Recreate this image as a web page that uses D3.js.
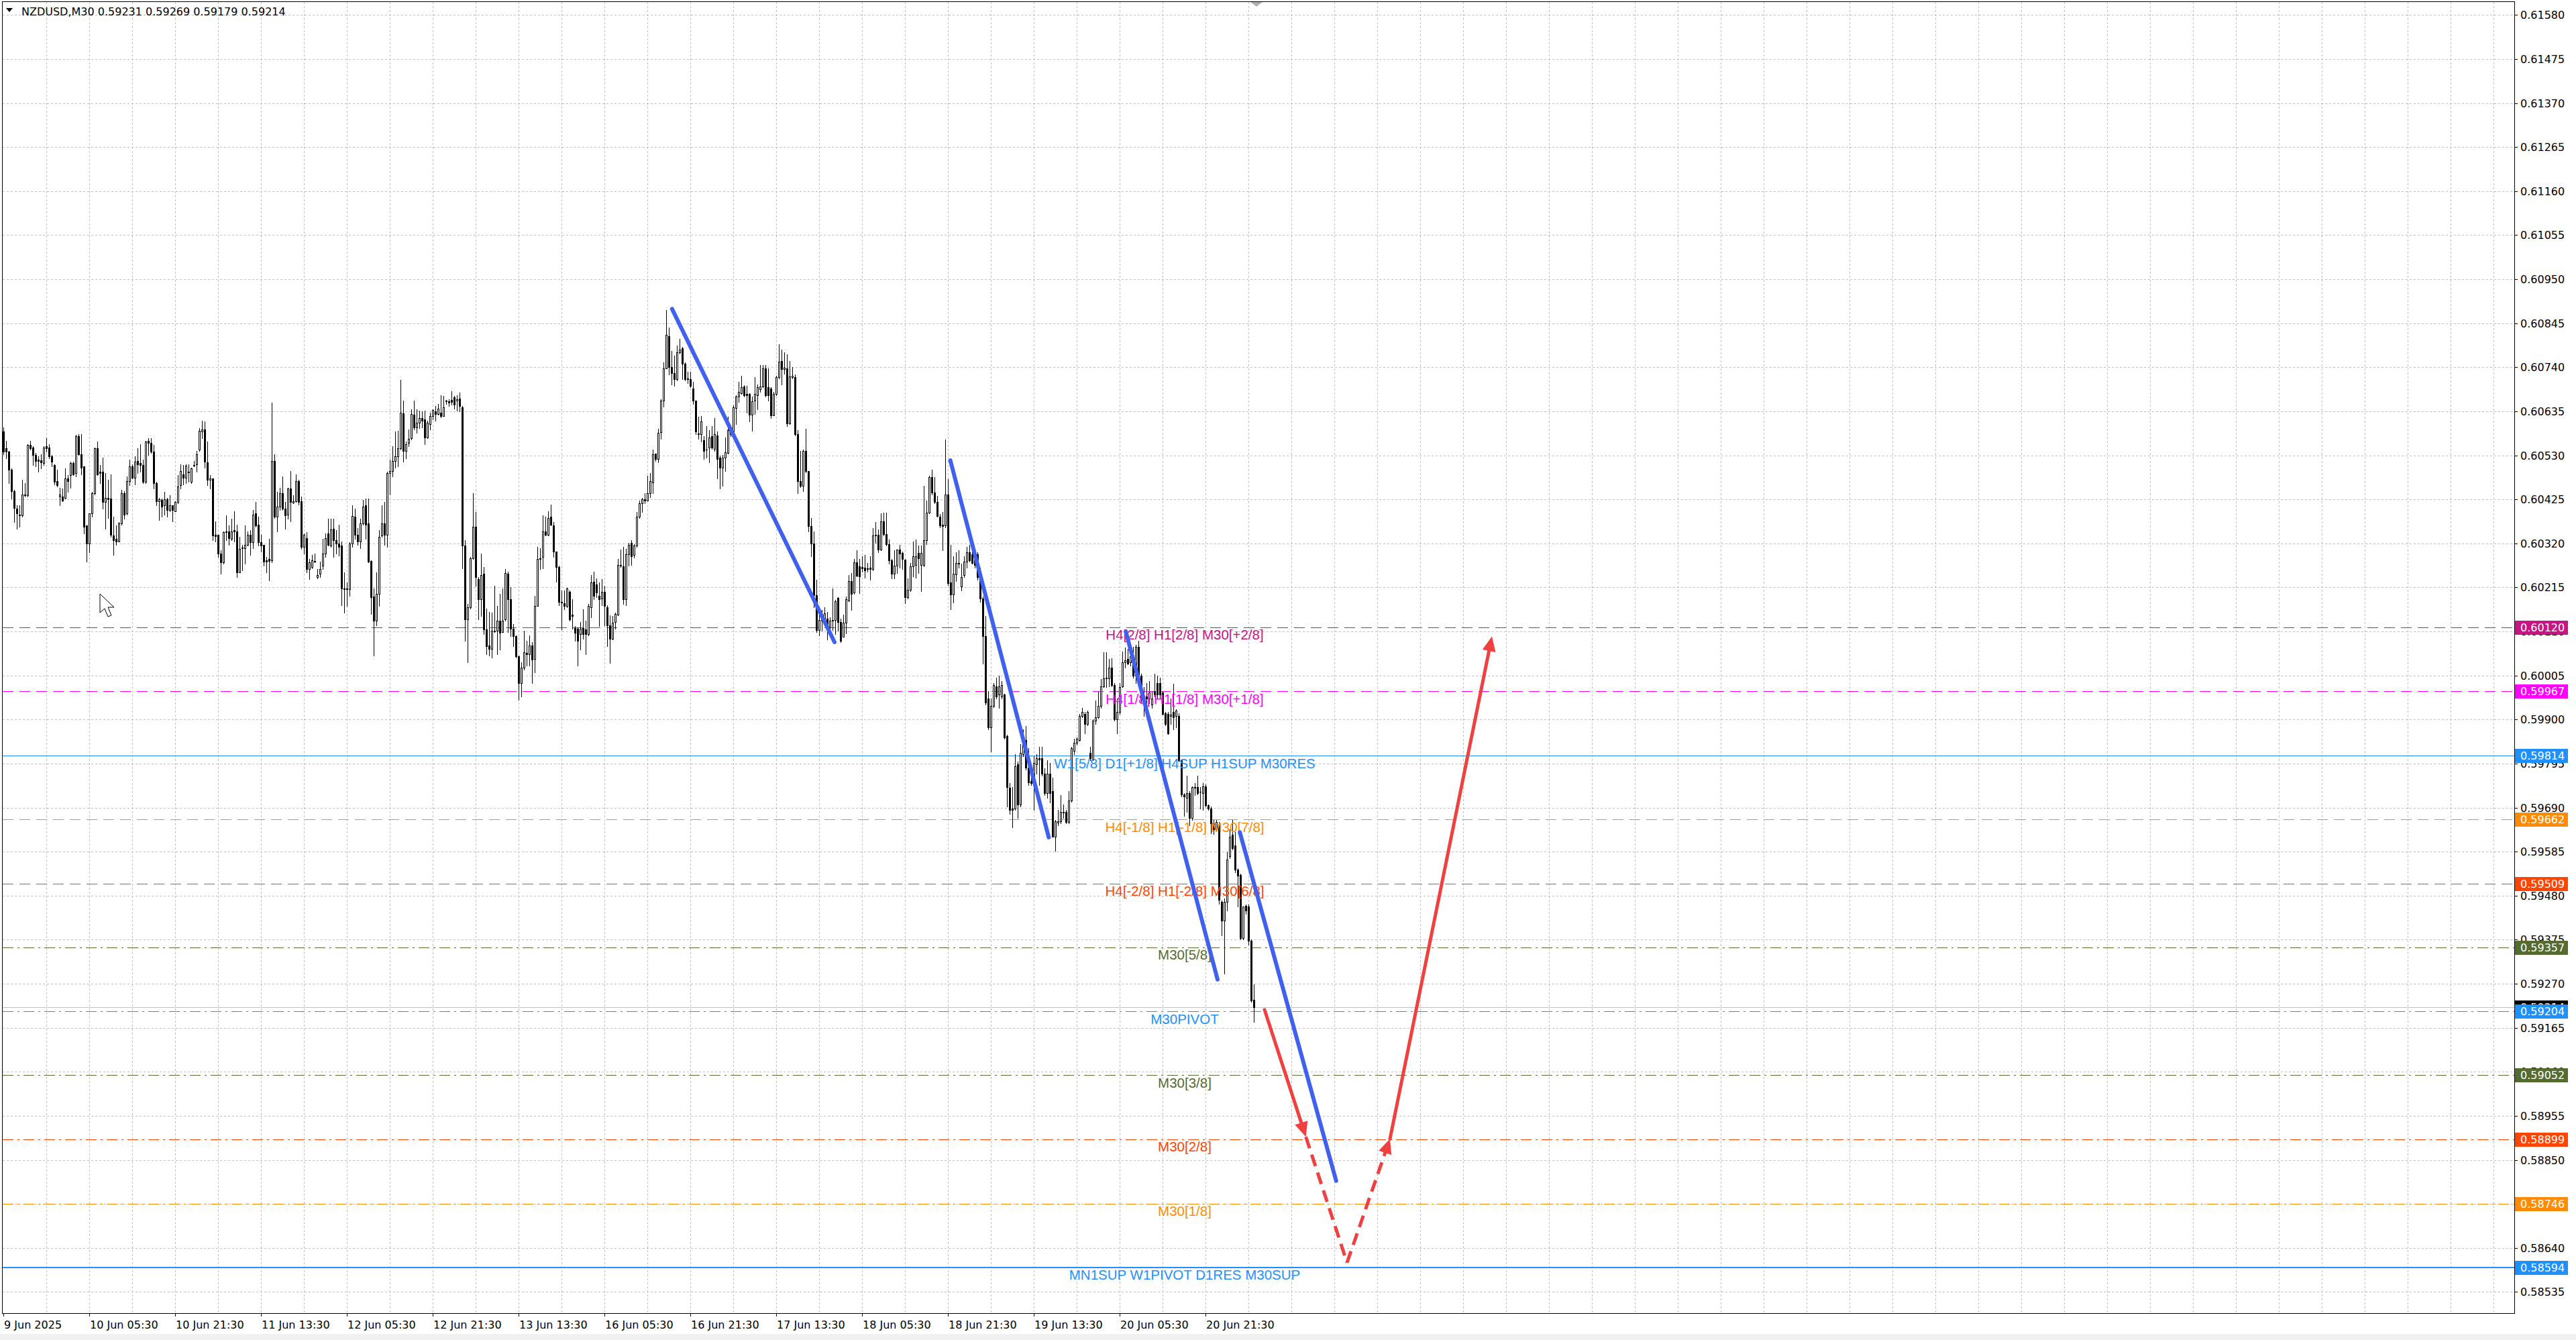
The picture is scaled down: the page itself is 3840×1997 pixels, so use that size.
<!DOCTYPE html>
<html><head><meta charset="utf-8">
<script src="https://cdn.jsdelivr.net/npm/d3@7"></script>
<style>html,body{margin:0;padding:0;background:#fff;overflow:hidden}svg{display:block}</style>
</head><body>
<script>
// ---------------- DATA ----------------
const openPrices = [0.60587,0.60547,0.60539,0.60496,0.60445,0.60403,0.60389,0.60387,0.60435,0.60435,0.60555,0.60549,0.60531,0.60520,0.60518,0.60512,0.60552,0.60549,0.60528,0.60507,0.60468,0.60432,0.60432,0.60429,0.60475,0.60483,0.60512,0.60488,0.60576,0.60533,0.60504,0.60363,0.60320,0.60392,0.60440,0.60547,0.60491,0.60491,0.60419,0.60429,0.60427,0.60339,0.60331,0.60325,0.60368,0.60440,0.60392,0.60469,0.60504,0.60477,0.60517,0.60512,0.60507,0.60467,0.60564,0.60560,0.60539,0.60464,0.60421,0.60424,0.60411,0.60426,0.60400,0.60411,0.60397,0.60419,0.60459,0.60485,0.60476,0.60491,0.60467,0.60507,0.60509,0.60543,0.60587,0.60592,0.60514,0.60472,0.60475,0.60340,0.60341,0.60296,0.60275,0.60349,0.60349,0.60331,0.60352,0.60349,0.60251,0.60310,0.60309,0.60317,0.60341,0.60323,0.60392,0.60365,0.60323,0.60317,0.60280,0.60283,0.60280,0.60517,0.60384,0.60408,0.60440,0.60403,0.60389,0.60451,0.60417,0.60421,0.60469,0.60421,0.60312,0.60333,0.60259,0.60264,0.60278,0.60240,0.60248,
0.60267,0.60296,0.60344,0.60315,0.60355,0.60328,0.60319,0.60315,0.60212,0.60211,0.60211,0.60320,0.60384,0.60341,0.60325,0.60368,0.60411,0.60368,0.60278,0.60193,0.60136,0.60200,0.60339,0.60368,0.60341,0.60488,0.60493,0.60517,0.60528,0.60547,0.60630,0.60541,0.60559,0.60571,0.60627,0.60597,0.60608,0.60619,0.60615,0.60572,0.60605,0.60624,0.60635,0.60628,0.60632,0.60624,0.60661,0.60659,0.60662,0.60668,0.60660,0.60665,0.60645,0.60315,0.60139,0.60168,0.60285,0.60360,0.60235,0.60187,0.60248,0.60115,0.60077,0.60069,0.60112,0.60112,0.60136,0.60109,0.60139,0.60248,0.60187,0.60117,0.60099,0.60051,0.59987,0.60024,0.60059,0.60056,0.60077,0.60045,0.60171,0.60285,0.60288,0.60349,0.60341,0.60384,0.60363,0.60301,0.60264,0.60181,0.60177,0.60171,0.60204,0.60150,0.60118,0.60117,0.60104,0.60118,0.60115,0.60104,0.60168,0.60228,0.60222,0.60195,0.60189,0.60205,0.60168,0.60124,0.60093,0.60133,0.60150,0.60269,0.60266,0.60187,0.60294,
0.60322,0.60292,0.60315,0.60383,0.60416,0.60425,0.60422,0.60439,0.60466,0.60534,0.60522,0.60585,0.60661,0.60738,0.60814,0.60741,0.60726,0.60711,0.60775,0.60785,0.60749,0.60714,0.60712,0.60690,0.60661,0.60582,0.60581,0.60566,0.60544,0.60549,0.60575,0.60546,0.60578,0.60525,0.60501,0.60525,0.60535,0.60581,0.60587,0.60643,0.60670,0.60678,0.60694,0.60676,0.60676,0.60627,0.60661,0.60673,0.60687,0.60694,0.60738,0.60692,0.60690,0.60625,0.60676,0.60717,0.60755,0.60736,0.60738,0.60606,0.60717,0.60716,0.60581,0.60468,0.60457,0.60540,0.60492,0.60361,0.60320,0.60197,0.60114,0.60135,0.60138,0.60141,0.60120,0.60135,0.60138,0.60190,0.60133,0.60098,0.60131,0.60184,0.60230,0.60203,0.60275,0.60265,0.60263,0.60262,0.60261,0.60262,0.60259,0.60341,0.60341,0.60306,0.60373,0.60342,0.60318,0.60280,0.60247,0.60267,0.60305,0.60298,0.60281,0.60191,0.60209,0.60265,0.60268,0.60298,0.60268,0.60268,0.60328,0.60393,0.60478,0.60442,0.60419,
0.60383,0.60365,0.60363,0.60436,0.60227,0.60198,0.60246,0.60273,0.60218,0.60244,0.60276,0.60299,0.60294,0.60301,0.60294,0.60239,0.60189,0.60099,0.59950,0.59881,0.59933,0.59979,0.59959,0.59955,0.59959,0.59860,0.59737,0.59688,0.59688,0.59794,0.59698,0.59817,0.59851,0.59785,0.59753,0.59748,0.59794,0.59808,0.59808,0.59771,0.59725,0.59771,0.59730,0.59620,0.59654,0.59658,0.59679,0.59679,0.59656,0.59707,0.59826,0.59844,0.59851,0.59909,0.59913,0.59890,0.59820,0.59805,0.59897,0.59906,0.59933,0.59979,0.59998,0.59998,0.60023,0.59982,0.59900,0.59918,0.59979,0.60037,0.60044,0.60037,0.60051,0.60005,0.60074,0.60005,0.59955,0.59955,0.59950,0.59936,0.59968,0.59987,0.59987,0.59964,0.59915,0.59913,0.59909,0.59918,0.59909,0.59909,0.59803,0.59722,0.59713,0.59725,0.59665,0.59739,0.59739,0.59728,0.59725,0.59741,0.59695,0.59688,0.59652,0.59638,0.59650,0.59465,0.59420,0.59465,0.59574,0.59625,0.59600,0.59542,0.59530,0.59379,0.59456,0.59454,0.59372,0.59231];
const highPrices = [0.60597,0.60565,0.60541,0.60499,0.60448,0.60411,0.60411,0.60472,0.60464,0.60557,0.60565,0.60552,0.60536,0.60528,0.60533,0.60552,0.60571,0.60557,0.60531,0.60509,0.60496,0.60453,0.60451,0.60499,0.60483,0.60515,0.60515,0.60579,0.60581,0.60581,0.60504,0.60363,0.60392,0.60443,0.60549,0.60563,0.60507,0.60525,0.60488,0.60472,0.60485,0.60384,0.60363,0.60371,0.60448,0.60445,0.60480,0.60520,0.60509,0.60528,0.60547,0.60557,0.60520,0.60565,0.60571,0.60571,0.60555,0.60467,0.60429,0.60427,0.60443,0.60429,0.60435,0.60411,0.60421,0.60483,0.60509,0.60507,0.60509,0.60509,0.60501,0.60517,0.60541,0.60595,0.60613,0.60611,0.60563,0.60483,0.60475,0.60373,0.60341,0.60304,0.60349,0.60387,0.60363,0.60379,0.60397,0.60365,0.60336,0.60317,0.60363,0.60349,0.60352,0.60400,0.60419,0.60384,0.60341,0.60317,0.60288,0.60331,0.60656,0.60533,0.60443,0.60453,0.60480,0.60419,0.60453,0.60493,0.60435,0.60485,0.60472,0.60432,0.60344,0.60347,0.60283,0.60293,0.60296,0.60259,0.60277,
0.60331,0.60344,0.60379,0.60379,0.60379,0.60352,0.60365,0.60325,0.60251,0.60227,0.60323,0.60411,0.60403,0.60357,0.60379,0.60424,0.60427,0.60427,0.60280,0.60213,0.60251,0.60352,0.60411,0.60419,0.60491,0.60520,0.60552,0.60587,0.60589,0.60710,0.60661,0.60563,0.60592,0.60640,0.60661,0.60640,0.60637,0.60635,0.60637,0.60613,0.60632,0.60639,0.60648,0.60652,0.60673,0.60672,0.60662,0.60664,0.60683,0.60672,0.60673,0.60680,0.60648,0.60328,0.60176,0.60288,0.60440,0.60395,0.60240,0.60296,0.60264,0.60165,0.60157,0.60155,0.60219,0.60171,0.60200,0.60213,0.60259,0.60253,0.60216,0.60128,0.60101,0.60053,0.60037,0.60112,0.60088,0.60101,0.60085,0.60195,0.60312,0.60309,0.60387,0.60384,0.60397,0.60413,0.60371,0.60301,0.60267,0.60208,0.60208,0.60214,0.60208,0.60187,0.60123,0.60120,0.60133,0.60163,0.60136,0.60176,0.60245,0.60253,0.60237,0.60227,0.60235,0.60219,0.60173,0.60149,0.60147,0.60155,0.60283,0.60305,0.60312,0.60307,0.60321,
0.60327,0.60318,0.60395,0.60422,0.60428,0.60439,0.60481,0.60487,0.60543,0.60534,0.60593,0.60664,0.60752,0.60876,0.60835,0.60779,0.60767,0.60792,0.60808,0.60788,0.60752,0.60729,0.60729,0.60705,0.60661,0.60622,0.60624,0.60575,0.60599,0.60590,0.60599,0.60619,0.60587,0.60529,0.60531,0.60572,0.60622,0.60599,0.60649,0.60673,0.60705,0.60720,0.60698,0.60696,0.60678,0.60670,0.60716,0.60699,0.60746,0.60746,0.60746,0.60738,0.60693,0.60681,0.60720,0.60795,0.60782,0.60775,0.60771,0.60755,0.60741,0.60723,0.60590,0.60541,0.60543,0.60594,0.60492,0.60381,0.60348,0.60233,0.60162,0.60162,0.60168,0.60156,0.60144,0.60212,0.60185,0.60191,0.60141,0.60150,0.60194,0.60244,0.60250,0.60283,0.60303,0.60283,0.60289,0.60292,0.60273,0.60289,0.60357,0.60371,0.60354,0.60392,0.60393,0.60393,0.60330,0.60283,0.60303,0.60306,0.60316,0.60301,0.60282,0.60236,0.60274,0.60324,0.60330,0.60315,0.60315,0.60457,0.60422,0.60481,0.60495,0.60478,0.60433,
0.60390,0.60395,0.60567,0.60473,0.60317,0.60290,0.60299,0.60303,0.60271,0.60290,0.60312,0.60317,0.60299,0.60303,0.60299,0.60262,0.60193,0.60147,0.59968,0.59950,0.59987,0.60000,0.60005,0.59991,0.59961,0.59863,0.59748,0.59739,0.59817,0.59799,0.59842,0.59877,0.59884,0.59831,0.59785,0.59812,0.59817,0.59835,0.59835,0.59783,0.59803,0.59796,0.59762,0.59661,0.59684,0.59720,0.59698,0.59684,0.59730,0.59835,0.59854,0.59858,0.59913,0.59927,0.59918,0.59922,0.59835,0.59900,0.59945,0.59968,0.59996,0.60060,0.60060,0.60044,0.60046,0.59987,0.59950,0.59987,0.60062,0.60071,0.60069,0.60074,0.60074,0.60078,0.60088,0.60010,0.59978,0.59987,0.59991,0.59968,0.60010,0.60005,0.60000,0.59968,0.59918,0.59918,0.59950,0.59985,0.59925,0.59915,0.59805,0.59725,0.59766,0.59730,0.59741,0.59748,0.59766,0.59739,0.59748,0.59746,0.59698,0.59693,0.59661,0.59661,0.59655,0.59468,0.59473,0.59583,0.59638,0.59661,0.59632,0.59546,0.59532,0.59454,0.59459,0.59459,0.59376,0.59269];
const lowPrices = [0.60533,0.60523,0.60464,0.60427,0.60371,0.60355,0.60360,0.60384,0.60432,0.60432,0.60544,0.60507,0.60504,0.60491,0.60499,0.60507,0.60539,0.60523,0.60504,0.60461,0.60456,0.60411,0.60421,0.60427,0.60443,0.60453,0.60483,0.60480,0.60531,0.60485,0.60344,0.60277,0.60299,0.60384,0.60437,0.60483,0.60464,0.60403,0.60355,0.60381,0.60336,0.60293,0.60317,0.60325,0.60365,0.60379,0.60389,0.60459,0.60475,0.60461,0.60488,0.60491,0.60464,0.60464,0.60531,0.60536,0.60451,0.60411,0.60376,0.60384,0.60389,0.60384,0.60397,0.60373,0.60397,0.60416,0.60451,0.60461,0.60464,0.60467,0.60464,0.60504,0.60491,0.60541,0.60571,0.60501,0.60459,0.60451,0.60328,0.60325,0.60288,0.60248,0.60272,0.60328,0.60317,0.60328,0.60325,0.60240,0.60251,0.60256,0.60272,0.60315,0.60293,0.60309,0.60360,0.60315,0.60301,0.60267,0.60251,0.60232,0.60275,0.60381,0.60349,0.60400,0.60400,0.60355,0.60379,0.60373,0.60416,0.60419,0.60413,0.60307,0.60296,0.60251,0.60235,0.60261,0.60275,0.60237,0.60240,
0.60259,0.60288,0.60315,0.60312,0.60288,0.60296,0.60291,0.60173,0.60155,0.60171,0.60195,0.60312,0.60331,0.60317,0.60309,0.60365,0.60331,0.60275,0.60152,0.60053,0.60125,0.60171,0.60336,0.60317,0.60312,0.60437,0.60480,0.60501,0.60504,0.60544,0.60515,0.60523,0.60552,0.60568,0.60592,0.60584,0.60595,0.60597,0.60557,0.60571,0.60592,0.60616,0.60613,0.60627,0.60621,0.60623,0.60653,0.60648,0.60651,0.60641,0.60637,0.60635,0.60261,0.60088,0.60037,0.60165,0.60283,0.60219,0.60139,0.60147,0.60104,0.60056,0.60053,0.60048,0.60109,0.60056,0.60067,0.60109,0.60136,0.60109,0.60099,0.60075,0.60048,0.59947,0.59955,0.60019,0.60029,0.60029,0.59987,0.60013,0.60171,0.60259,0.60261,0.60339,0.60339,0.60363,0.60288,0.60229,0.60173,0.60115,0.60163,0.60168,0.60136,0.60117,0.60088,0.60029,0.60067,0.60093,0.60056,0.60101,0.60144,0.60187,0.60192,0.60123,0.60173,0.60125,0.60075,0.60035,0.60091,0.60117,0.60149,0.60264,0.60176,0.60173,0.60267,
0.60268,0.60286,0.60312,0.60380,0.60395,0.60416,0.60422,0.60430,0.60439,0.60516,0.60513,0.60569,0.60646,0.60738,0.60723,0.60699,0.60696,0.60708,0.60773,0.60711,0.60708,0.60702,0.60693,0.60652,0.60581,0.60569,0.60563,0.60522,0.60525,0.60513,0.60546,0.60540,0.60475,0.60451,0.60457,0.60492,0.60534,0.60575,0.60575,0.60605,0.60658,0.60676,0.60670,0.60631,0.60611,0.60588,0.60628,0.60640,0.60681,0.60693,0.60670,0.60661,0.60619,0.60625,0.60674,0.60714,0.60699,0.60724,0.60599,0.60605,0.60714,0.60578,0.60439,0.60454,0.60445,0.60489,0.60348,0.60289,0.60168,0.60109,0.60100,0.60112,0.60132,0.60091,0.60103,0.60114,0.60103,0.60112,0.60085,0.60097,0.60106,0.60182,0.60162,0.60200,0.60241,0.60202,0.60253,0.60238,0.60253,0.60233,0.60256,0.60321,0.60299,0.60303,0.60339,0.60315,0.60271,0.60236,0.60236,0.60250,0.60262,0.60259,0.60177,0.60188,0.60206,0.60241,0.60238,0.60250,0.60206,0.60265,0.60318,0.60392,0.60436,0.60416,0.60383,
0.60358,0.60303,0.60358,0.60221,0.60163,0.60179,0.60230,0.60262,0.60207,0.60239,0.60262,0.60276,0.60271,0.60262,0.60234,0.60181,0.60033,0.59936,0.59877,0.59823,0.59930,0.59950,0.59927,0.59950,0.59854,0.59693,0.59675,0.59643,0.59684,0.59665,0.59693,0.59812,0.59780,0.59743,0.59743,0.59684,0.59771,0.59743,0.59766,0.59720,0.59713,0.59702,0.59620,0.59587,0.59647,0.59652,0.59665,0.59652,0.59652,0.59704,0.59817,0.59840,0.59849,0.59906,0.59867,0.59886,0.59803,0.59803,0.59890,0.59904,0.59927,0.59978,0.59978,0.59979,0.59979,0.59897,0.59867,0.59913,0.59978,0.60023,0.60031,0.60028,0.60000,0.59987,0.60000,0.59941,0.59909,0.59932,0.59939,0.59927,0.59955,0.59950,0.59950,0.59911,0.59886,0.59866,0.59890,0.59877,0.59881,0.59799,0.59716,0.59670,0.59679,0.59647,0.59661,0.59720,0.59722,0.59688,0.59684,0.59693,0.59684,0.59629,0.59627,0.59633,0.59460,0.59386,0.59294,0.59445,0.59569,0.59590,0.59535,0.59454,0.59376,0.59376,0.59436,0.59363,0.59227,0.59179];
const closePrices = [0.60539,0.60539,0.60496,0.60445,0.60405,0.60392,0.60387,0.60437,0.60437,0.60555,0.60547,0.60531,0.60517,0.60517,0.60513,0.60549,0.60547,0.60528,0.60515,0.60467,0.60459,0.60436,0.60422,0.60475,0.60469,0.60512,0.60485,0.60576,0.60533,0.60501,0.60360,0.60320,0.60392,0.60440,0.60547,0.60485,0.60488,0.60419,0.60429,0.60426,0.60341,0.60328,0.60325,0.60368,0.60440,0.60389,0.60469,0.60504,0.60477,0.60515,0.60509,0.60507,0.60467,0.60563,0.60559,0.60539,0.60464,0.60421,0.60426,0.60408,0.60426,0.60400,0.60411,0.60400,0.60419,0.60456,0.60493,0.60477,0.60506,0.60490,0.60499,0.60506,0.60533,0.60589,0.60592,0.60515,0.60472,0.60475,0.60339,0.60337,0.60296,0.60275,0.60347,0.60347,0.60333,0.60349,0.60349,0.60251,0.60307,0.60308,0.60317,0.60341,0.60323,0.60389,0.60363,0.60323,0.60315,0.60277,0.60277,0.60278,0.60517,0.60384,0.60408,0.60440,0.60403,0.60387,0.60451,0.60419,0.60421,0.60469,0.60419,0.60312,0.60341,0.60259,0.60275,0.60280,0.60277,0.60245,0.60259,
0.60296,0.60333,0.60317,0.60353,0.60328,0.60320,0.60312,0.60213,0.60211,0.60212,0.60320,0.60385,0.60341,0.60325,0.60368,0.60408,0.60365,0.60277,0.60192,0.60136,0.60200,0.60336,0.60368,0.60341,0.60488,0.60492,0.60517,0.60528,0.60547,0.60632,0.60540,0.60557,0.60569,0.60628,0.60596,0.60608,0.60619,0.60612,0.60573,0.60608,0.60624,0.60638,0.60629,0.60641,0.60624,0.60644,0.60659,0.60656,0.60657,0.60651,0.60664,0.60648,0.60315,0.60139,0.60168,0.60285,0.60360,0.60240,0.60187,0.60245,0.60115,0.60075,0.60069,0.60112,0.60110,0.60136,0.60107,0.60136,0.60249,0.60187,0.60117,0.60099,0.60051,0.59987,0.60024,0.60061,0.60056,0.60077,0.60043,0.60171,0.60283,0.60283,0.60349,0.60341,0.60381,0.60364,0.60301,0.60264,0.60181,0.60179,0.60171,0.60212,0.60139,0.60147,0.60107,0.60088,0.60117,0.60104,0.60104,0.60171,0.60227,0.60195,0.60203,0.60187,0.60205,0.60171,0.60125,0.60093,0.60131,0.60152,0.60269,0.60267,0.60187,0.60294,0.60317,
0.60289,0.60315,0.60383,0.60416,0.60425,0.60422,0.60439,0.60469,0.60532,0.60522,0.60584,0.60661,0.60738,0.60817,0.60741,0.60726,0.60711,0.60775,0.60782,0.60749,0.60712,0.60712,0.60696,0.60661,0.60587,0.60580,0.60611,0.60541,0.60543,0.60572,0.60549,0.60581,0.60522,0.60501,0.60525,0.60537,0.60590,0.60587,0.60645,0.60670,0.60681,0.60693,0.60674,0.60674,0.60627,0.60659,0.60676,0.60692,0.60694,0.60738,0.60674,0.60673,0.60625,0.60677,0.60717,0.60753,0.60736,0.60739,0.60606,0.60718,0.60720,0.60581,0.60468,0.60457,0.60540,0.60492,0.60362,0.60320,0.60197,0.60114,0.60137,0.60144,0.60153,0.60123,0.60135,0.60138,0.60182,0.60132,0.60088,0.60131,0.60187,0.60230,0.60200,0.60275,0.60243,0.60241,0.60261,0.60256,0.60259,0.60259,0.60339,0.60339,0.60306,0.60373,0.60342,0.60318,0.60280,0.60247,0.60267,0.60305,0.60295,0.60283,0.60191,0.60209,0.60265,0.60289,0.60290,0.60285,0.60298,0.60327,0.60393,0.60478,0.60442,0.60419,0.60386,
0.60363,0.60361,0.60436,0.60225,0.60198,0.60248,0.60273,0.60271,0.60239,0.60276,0.60299,0.60280,0.60273,0.60269,0.60239,0.60189,0.60099,0.59941,0.59881,0.59933,0.59982,0.59955,0.59979,0.59982,0.59858,0.59739,0.59684,0.59684,0.59789,0.59698,0.59820,0.59851,0.59785,0.59750,0.59748,0.59796,0.59808,0.59805,0.59771,0.59725,0.59771,0.59725,0.59621,0.59658,0.59658,0.59679,0.59678,0.59656,0.59707,0.59831,0.59844,0.59854,0.59909,0.59918,0.59890,0.59918,0.59808,0.59897,0.59906,0.59933,0.59979,0.59998,0.60000,0.60023,0.59982,0.59900,0.59918,0.59978,0.60037,0.60042,0.60034,0.60051,0.60005,0.60074,0.60005,0.59950,0.59936,0.59950,0.59964,0.59950,0.59959,0.59959,0.59959,0.59913,0.59890,0.59867,0.59911,0.59906,0.59922,0.59803,0.59722,0.59716,0.59725,0.59665,0.59739,0.59737,0.59725,0.59727,0.59741,0.59695,0.59688,0.59652,0.59638,0.59656,0.59470,0.59420,0.59465,0.59566,0.59621,0.59594,0.59542,0.59528,0.59379,0.59454,0.59445,0.59372,0.59230,0.59214];

const priceTicks = [0.61580,0.61475,0.61370,0.61265,0.61160,0.61055,0.60950,0.60845,0.60740,0.60635,0.60530,0.60425,0.60320,0.60215,0.60110,0.60005,0.59900,0.59795,0.59690,0.59585,0.59480,0.59375,0.59270,0.59165,0.59060,0.58955,0.58850,0.58745,0.58640,0.58535];
const timeLabels = ["9 Jun 2025","10 Jun 05:30","10 Jun 21:30","11 Jun 13:30","12 Jun 05:30","12 Jun 21:30","13 Jun 13:30","16 Jun 05:30","16 Jun 21:30","17 Jun 13:30","18 Jun 05:30","18 Jun 21:30","19 Jun 13:30","20 Jun 05:30","20 Jun 21:30"];
const timeLabelBars = [0,32,64,96,128,160,192,224,256,288,320,352,384,416,448];

const levelPrices = [0.60120,0.59967,0.59814,0.59662,0.59509,0.59357,0.59204,0.59052,0.58899,0.58746,0.58594];
const levelTexts = ["H4[2/8] H1[2/8] M30[+2/8]","H4[1/8] H1[1/8] M30[+1/8]","W1[5/8] D1[+1/8] H4SUP H1SUP M30RES","H4[-1/8] H1[-1/8] M30[7/8]","H4[-2/8] H1[-2/8] M30[6/8]","M30[5/8]","M30PIVOT","M30[3/8]","M30[2/8]","M30[1/8]","MN1SUP W1PIVOT D1RES M30SUP"];
const levelLabelBar = 440.25;

const symbolTitle = "NZDUSD,M30";
const lastBar = {open:0.59231, high:0.59269, low:0.59179, close:0.59214};

// trend lines [bar0, price0, bar1, price1]
const blueLines = [[249.2,0.60879,309.75,0.600845],[352.9,0.60518,389.6,0.59619],[418.3,0.60110,452.5,0.59280],[460.8,0.59631,496.7,0.58800]];
// projected path
const redPath = [[470,0.59208],[485.4,0.58905],[500.75,0.58605],[516.75,0.58900],[554.75,0.60098]];

// ---------------- STYLES ----------------
const levelStyle = [
 {c:"#C71585",d:"16,9",w:1},{c:"#FF00FF",d:"16,9",w:1},{c:"#1E90FF",d:null,w:1},{c:"#FF8C00",d:"16,9",w:1},{c:"#FF4500",d:"16,9",w:1},
 {c:"#556B2F",d:"16,6,3,6",w:1},{c:"#1E90FF",d:"16,6,3,6",w:1},{c:"#556B2F",d:"16,6,3,6",w:1},{c:"#FF4500",d:"16,6,3,6",w:1},{c:"#FF8C00",d:"16,6,3,6",w:1},{c:"#1E90FF",d:null,w:2}];

const W = 3840, H = 1997;
const P = {left:4, right:3748, top:3, bottom:1957};
const svg = d3.select("body").append("svg").attr("width",W).attr("height",H)
  .style("font-family","'DejaVu Sans',Tahoma,sans-serif");
svg.append("rect").attr("width",W).attr("height",H).attr("fill","#fff");

const x = d3.scaleLinear().domain([0,466]).range([5,1869]);
const y = d3.scaleLinear().domain([0.61580,0.58535]).range([22.3,1925.4]);

svg.append("clipPath").attr("id","plotclip").append("rect")
  .attr("x",P.left).attr("y",P.top).attr("width",P.right-P.left).attr("height",P.bottom-P.top);
const g = svg.append("g").attr("clip-path","url(#plotclip)");

// grid
const gridG = g.append("g").attr("stroke","#c0c0c0").attr("stroke-width",1).attr("stroke-dasharray","3,3").attr("shape-rendering","crispEdges");
const vBars = d3.range(16, 940, 16);
gridG.selectAll("line.v").data(vBars).join("line").attr("class","v")
  .attr("x1",d=>Math.round(x(d))+0.5).attr("x2",d=>Math.round(x(d))+0.5).attr("y1",P.top).attr("y2",P.bottom);
gridG.selectAll("line.h").data(priceTicks).join("line").attr("class","h")
  .attr("y1",d=>Math.round(y(d))+0.5).attr("y2",d=>Math.round(y(d))+0.5).attr("x1",P.left).attr("x2",P.right);

// level lines
const lvG = g.append("g").attr("shape-rendering","crispEdges");
levelPrices.forEach((p,k)=>{
  const s = levelStyle[k];
  const yy = Math.round(y(p)) + (s.w===2?0:0.5);
  lvG.append("line").attr("x1",P.left).attr("x2",P.right).attr("y1",yy).attr("y2",yy)
    .attr("stroke",s.c).attr("stroke-width",s.w).attr("stroke-dasharray",s.d);
});
// bid line
g.append("line").attr("x1",P.left).attr("x2",P.right).attr("y1",Math.round(y(lastBar.close))+0.5).attr("y2",Math.round(y(lastBar.close))+0.5)
  .attr("stroke","#c0c0c0").attr("stroke-width",1).attr("shape-rendering","crispEdges");

// candles
const cG = g.append("g").attr("shape-rendering","crispEdges");
d3.range(openPrices.length).forEach(i=>{
  const cx = Math.round(x(i));
  const o=openPrices[i], c=closePrices[i], h=highPrices[i], l=lowPrices[i];
  const yh = Math.round(y(Math.max(h,o,c))), yl = Math.round(y(Math.min(l,o,c)));
  cG.append("line").attr("x1",cx+0.5).attr("x2",cx+0.5).attr("y1",yh).attr("y2",yl+1).attr("stroke","#000");
  const yt = Math.round(y(Math.max(o,c))), yb = Math.round(y(Math.min(o,c)));
  if (yb-yt < 1) {
    cG.append("rect").attr("x",cx-1).attr("y",yt).attr("width",3).attr("height",1).attr("fill","#000");
  } else {
    cG.append("rect").attr("x",cx-0.5).attr("y",yt+0.5).attr("width",2).attr("height",yb-yt)
      .attr("fill", c>o ? "#fff" : "#000").attr("stroke","#000").attr("stroke-width",1);
  }
});

// level texts
const tG = g.append("g").style("font-family","'Liberation Sans',Arial,sans-serif").style("font-size","20.5px");
levelPrices.forEach((p,k)=>{
  tG.append("text").attr("x",x(levelLabelBar)).attr("y",y(p)+18.5).attr("text-anchor","middle")
    .attr("fill",levelStyle[k].c).text(levelTexts[k]);
});

// blue trend lines
g.append("g").selectAll("line").data(blueLines).join("line")
  .attr("x1",d=>x(d[0])).attr("y1",d=>y(d[1])).attr("x2",d=>x(d[2])).attr("y2",d=>y(d[3]))
  .attr("stroke","#4060F0").attr("stroke-width",6).attr("stroke-linecap","round");

// red arrows
const red = "#F04040";
const rG = g.append("g");
function seg(a,b,dashed){
  rG.append("line").attr("x1",x(a[0])).attr("y1",y(a[1])).attr("x2",x(b[0])).attr("y2",y(b[1]))
   .attr("stroke",red).attr("stroke-width",5).attr("stroke-linecap",dashed?"butt":"round").attr("stroke-dasharray",dashed?"18,10":null);
}
function head(a,b){
  const x0=x(a[0]),y0=y(a[1]),x1=x(b[0]),y1=y(b[1]);
  const ang=Math.atan2(y1-y0,x1-x0), L=22, Wd=10;
  const bx=x1-L*Math.cos(ang), by=y1-L*Math.sin(ang);
  const px=-Math.sin(ang), py=Math.cos(ang);
  rG.append("path").attr("d",`M${x1},${y1}L${bx+Wd*px},${by+Wd*py}L${bx-Wd*px},${by-Wd*py}Z`).attr("fill",red);
}
function shorten(a,b,len){
  const x0=x(a[0]),y0=y(a[1]),x1=x(b[0]),y1=y(b[1]);
  const d=Math.hypot(x1-x0,y1-y0); const t=(d-len)/d;
  return [x.invert(x0+(x1-x0)*t), y.invert(y0+(y1-y0)*t)];
}
seg(redPath[0], shorten(redPath[0],redPath[1],15), false); head(redPath[0],redPath[1]);
seg(redPath[1], redPath[2], true);
seg(redPath[2], shorten(redPath[2],redPath[3],15), true); head(redPath[2],redPath[3]);
seg(redPath[3], shorten(redPath[3],redPath[4],15), false); head(redPath[3],redPath[4]);

// cursor
g.append("path").attr("d","M149,885 L149,913 L156,907 L161,919 L166,917 L161,905 L170,905 Z")
  .attr("fill","#fff").attr("stroke","#000").attr("stroke-width",1);

// plot border
svg.append("rect").attr("x",P.left-0.5).attr("y",P.top-0.5).attr("width",P.right-P.left+1).attr("height",P.bottom-P.top+1)
  .attr("fill","none").attr("stroke","#000").attr("stroke-width",1).attr("shape-rendering","crispEdges");
svg.append("path").attr("d","M1864,3 L1882,3 L1873,10 Z").attr("fill","#b0b0b0");

// right axis labels
const aG = svg.append("g").style("font-size","16px").attr("fill","#000");
priceTicks.forEach(p=>{
  const yy = Math.round(y(p));
  aG.append("line").attr("x1",P.right).attr("x2",P.right+5).attr("y1",yy+0.5).attr("y2",yy+0.5).attr("stroke","#000").attr("shape-rendering","crispEdges");
  aG.append("text").attr("x",3757).attr("y",yy+6).text(p.toFixed(5));
});
// price tags
const tagG = svg.append("g").style("font-size","16px");
function tag(p,col){
  const yy = y(p);
  tagG.append("rect").attr("x",P.right+1).attr("y",Math.round(yy)-10).attr("width",79).attr("height",21).attr("fill",col);
  tagG.append("text").attr("x",3757).attr("y",Math.round(yy)+6).attr("fill","#fff").text(p.toFixed(5));
}
tag(lastBar.close,"#000");
levelPrices.forEach((p,k)=>tag(p,levelStyle[k].c));

// time axis
const xG = svg.append("g").style("font-size","16px");
timeLabelBars.forEach((b,k)=>{
  const xx = Math.round(x(b));
  xG.append("line").attr("x1",xx+0.5).attr("x2",xx+0.5).attr("y1",P.bottom).attr("y2",P.bottom+5).attr("stroke","#000").attr("shape-rendering","crispEdges");
  xG.append("text").attr("x",xx+1).attr("y",1980).text(timeLabels[k]);
});

// title
svg.append("path").attr("d","M9,12 L19,12 L14,18 Z").attr("fill","#000");
svg.append("text").attr("x",32).attr("y",23).style("font-size","16px")
  .text(`${symbolTitle}  ${lastBar.open.toFixed(5)} ${lastBar.high.toFixed(5)} ${lastBar.low.toFixed(5)} ${lastBar.close.toFixed(5)}`);
svg.append("rect").attr("x",0).attr("y",1988).attr("width",W).attr("height",9).attr("fill","#f0f0f0");
</script>
</body></html>
